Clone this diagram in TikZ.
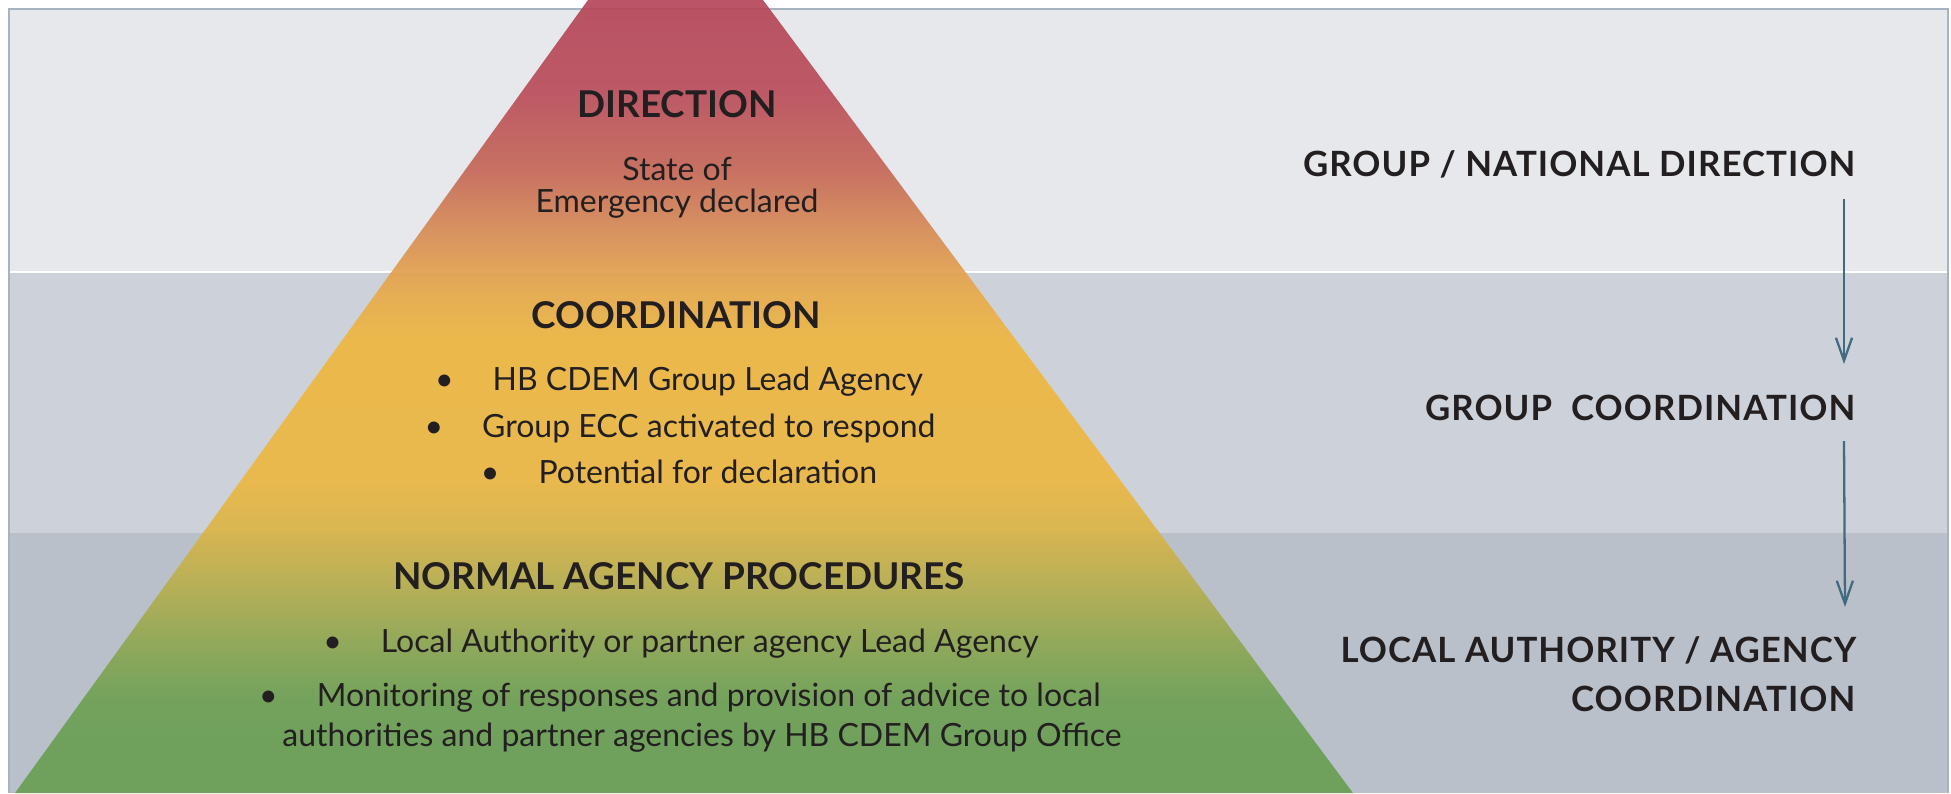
\documentclass[tikz,border=0pt]{standalone}
\usepackage{fontspec}
\setmainfont{Lato}
\newfontfamily\trackfont[LetterSpace=3]{Lato}
\usetikzlibrary{arrows.meta}

\definecolor{ink}{HTML}{231F20}
\definecolor{bandA}{HTML}{E6E8EC}
\definecolor{bandB}{HTML}{CDD2DA}
\definecolor{bandC}{HTML}{B9C0CA}
\definecolor{framegray}{HTML}{A7B3C1}
\definecolor{arrowblue}{HTML}{426A80}

% pyramid colours, from the green base up to the red tip
\definecolor{pyrgreen}{HTML}{6A9F55}
\definecolor{pyrgreenB}{HTML}{6FA054}
\definecolor{pyrolive}{HTML}{8AA753}
\definecolor{pyroliveB}{HTML}{B4AE50}
\definecolor{pyrmustard}{HTML}{DAB548}
\definecolor{pyryellow}{HTML}{EDB843}
\definecolor{pyryellowB}{HTML}{EEB742}
\definecolor{pyrorange}{HTML}{E7AA4C}
\definecolor{pyrorangeB}{HTML}{D78C57}
\definecolor{pyrsalmon}{HTML}{C66858}
\definecolor{pyrredB}{HTML}{BA4E5C}
\definecolor{pyrred}{HTML}{B5475A}

\pgfdeclareverticalshading{pyramid}{100bp}{%
  color(0bp)=(pyrgreen); color(28.3bp)=(pyrgreen);
  color(30.9bp)=(pyrgreenB); color(34bp)=(pyrolive);
  color(37.8bp)=(pyroliveB); color(41.6bp)=(pyrmustard);
  color(45.1bp)=(pyryellow); color(53.6bp)=(pyryellowB);
  color(56.7bp)=(pyrorange); color(60.5bp)=(pyrorangeB);
  color(64.3bp)=(pyrsalmon); color(69.3bp)=(pyrredB);
  color(75bp)=(pyrred); color(100bp)=(pyrred)}

\newcommand\itm{\textbullet\hspace{0.39cm}}

\begin{document}
\begin{tikzpicture}[x=0.01cm,y=-0.01cm,
  head/.style={font=\fontsize{10.5}{12}\selectfont\bfseries,text=ink,inner sep=0pt,anchor=base},
  body/.style={font=\fontsize{9.1}{11}\selectfont,text=ink,inner sep=0pt,anchor=base},
  level/.style={font=\trackfont\fontsize{9.9}{12}\selectfont\bfseries,text=ink,inner sep=0pt,anchor=base east},
  flow/.style={draw=arrowblue,line width=0.65pt,-{Straight Barb[length=6.5pt,width=4.6pt]}}]
  \useasboundingbox (0,0) rectangle (1951,793);

  % background bands
  \fill[bandA] (9,9) rectangle (1948,272);
  \fill[bandB] (9,272) rectangle (1948,533);
  \fill[bandC] (9,533) rectangle (1948,793);
  \draw[white,line width=0.6pt] (9,272) -- (1948,272);
  \draw[framegray,line width=0.4pt] (9,793) -- (9,9) -- (1948,9) -- (1948,793);

  % pyramid
  \shade[shading=pyramid,fill opacity=0.93] (588,0) -- (763,0) -- (1353,793) -- (15,793) -- cycle;

  \node[head] (dirhead) at (677,117) {DIRECTION};
  \node[body] (dir1) at (677,180) {State of};
  \node[body] (dir2) at (677,212) {Emergency declared};

  \node[head] (cohead) at (676,328) {COORDINATION};
  \node[body] (co1) at (679,390) {\itm HB CDEM Group Lead Agency};
  \node[body] (co2) at (680,437) {\itm Group ECC activated to respond};
  \node[body] (co3) at (679,483) {\itm Potential for declaration};

  \node[head] (nahead) at (679,589) {NORMAL AGENCY PROCEDURES};
  \node[body] (na1) at (681,652) {\itm Local Authority or partner agency Lead Agency};
  \node[body] (na2) at (680,706) {\itm Monitoring of responses and provision of advice to local};
  \node[body] (na3) at (702,746) {authorities and partner agencies by HB CDEM Group Office};

  % levels on the right
  \node[level] (natdir) at (1856,176) {GROUP / NATIONAL DIRECTION};
  \node[level] (grpco) at (1856,420) {GROUP\ \ COORDINATION};
  \node[level] (local) at (1857,662) {LOCAL AUTHORITY / AGENCY};
  \node[level] (localco) at (1856,711) {COORDINATION};

  \draw[flow] ([shift={(-12,23)}]natdir.base east) -- ([shift={(-12,-56)}]grpco.base east);
  \draw[flow] ([shift={(-12,21)}]grpco.base east) -- ([shift={(-12,-55)}]local.base east);
\end{tikzpicture}
\end{document}
